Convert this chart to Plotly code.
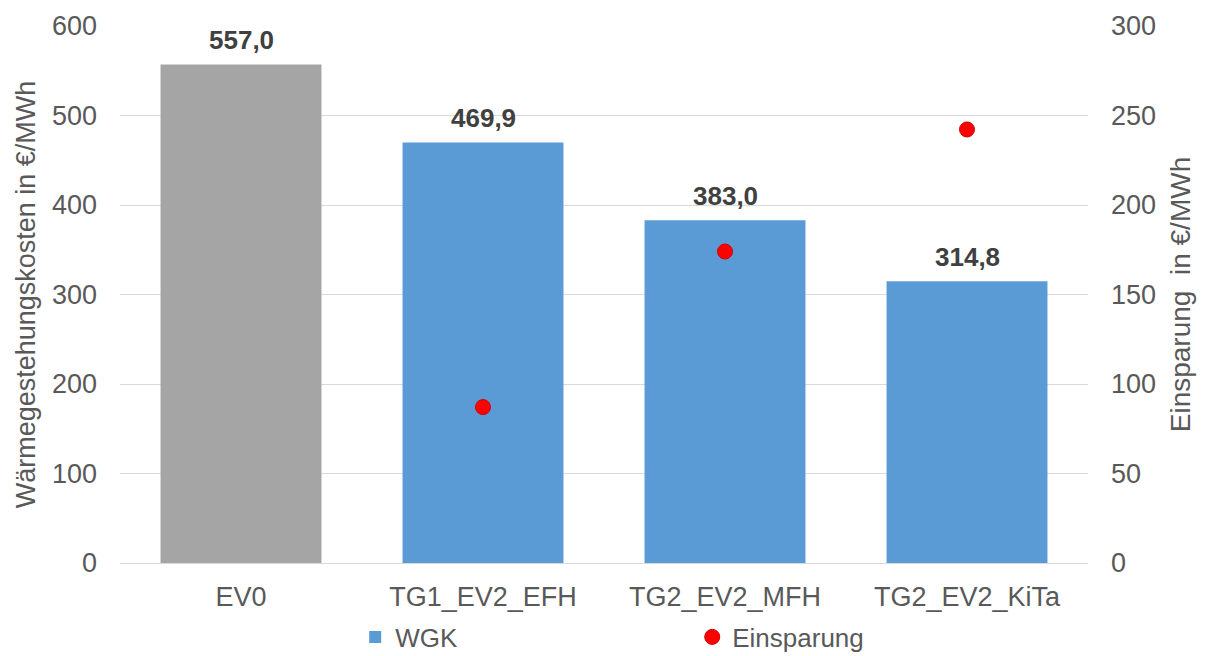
import plotly.graph_objects as go

categories = ["EV0", "TG1_EV2_EFH", "TG2_EV2_MFH", "TG2_EV2_KiTa"]
wgk_ref = [557.0, None, None, None]
wgk = [None, 469.9, 383.0, 314.8]
einsparung = [None, 87.1, 174.0, 242.2]

def fmt_de(v):
    return f"{v:.1f}".replace(".", ",")

font_family = "Liberation Sans, Arial, sans-serif"
tick_color = "#595959"
label_font = dict(family=font_family, size=26, color="#404040", weight="bold")

fig = go.Figure()
# reference variant EV0 in grey (not listed in the legend)
fig.add_trace(go.Bar(
    x=categories, y=wgk_ref, name="EV0", showlegend=False,
    marker=dict(color="#a5a5a5", line=dict(width=0)), width=0.665,
))
fig.add_trace(go.Bar(
    x=categories, y=wgk, name="WGK",
    marker=dict(color="#5b9bd5", line=dict(width=0)), width=0.665,
))
fig.add_trace(go.Scatter(
    x=categories, y=einsparung, name="Einsparung", mode="markers",
    marker=dict(color="#ff0000", size=15, line=dict(color="#d00000", width=1)),
    yaxis="y2",
))

# value labels above the bars
for cat, a, b in zip(categories, wgk_ref, wgk):
    v = a if a is not None else b
    fig.add_annotation(x=cat, y=v, xref="x", yref="y", text=fmt_de(v),
                       showarrow=False, yanchor="bottom", yshift=7, font=label_font)

fig.update_layout(
    width=1207, height=656,
    margin=dict(l=120, r=119, t=26, b=93, autoexpand=False),
    paper_bgcolor="white", plot_bgcolor="white",
    font=dict(family=font_family, size=26, color=tick_color),
    barmode="overlay",
    showlegend=True,
    legend=dict(orientation="h", x=0.243, xanchor="left", y=-0.094, yanchor="top",
                font=dict(size=26, color=tick_color),
                entrywidth=292, entrywidthmode="pixels", itemwidth=30,
                traceorder="normal"),
    xaxis=dict(type="category", showgrid=False, showline=True, linecolor="#d9d9d9", linewidth=1,
               tickfont=dict(size=27, color=tick_color), ticks="", ticklabelstandoff=10),
    yaxis=dict(range=[0, 600], dtick=100, showgrid=True, gridcolor="#d9d9d9", gridwidth=1,
               zeroline=False, showline=False, ticks="", ticklabelstandoff=22,
               tickfont=dict(size=27, color=tick_color),
               title=dict(text="Wärmegestehungskosten in €/MWh", standoff=8,
                          font=dict(size=27, color=tick_color))),
    yaxis2=dict(range=[0, 300], dtick=50, overlaying="y", side="right", showgrid=False,
                zeroline=False, showline=False, ticks="", ticklabelstandoff=22,
                tickfont=dict(size=27, color=tick_color),
                title=dict(text="Einsparung  in €/MWh", standoff=15,
                           font=dict(size=28, color=tick_color))),
)

fig.write_html("out.html")
